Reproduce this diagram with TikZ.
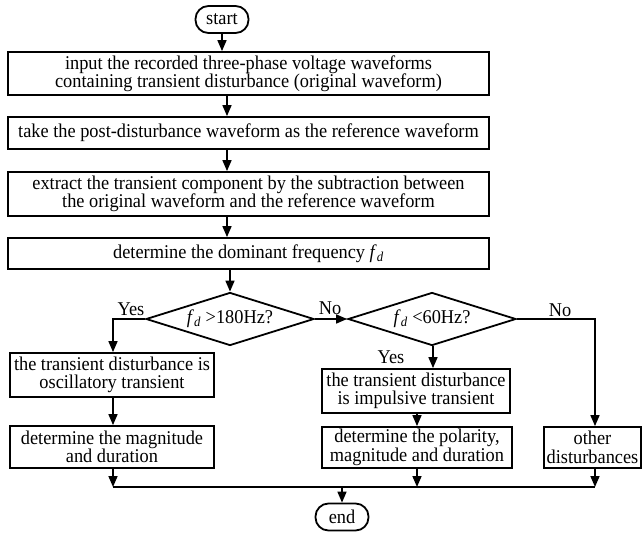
\documentclass[tikz,border=0pt]{standalone}
\usepackage{fontspec}
\setmainfont{Liberation Serif}[FakeStretch=0.94]
\usetikzlibrary{shapes.geometric,arrows.meta}
\newcommand\fdsym{\textit{f}\textsubscript{\textit{d}}}
\begin{document}
\begin{tikzpicture}[x=1pt,y=-1pt,
  every node/.style={font=\fontsize{19.5}{18.5}\selectfont},
  box/.style={draw, line width=1.8pt, rectangle, inner sep=0pt, align=center},
  term/.style={draw, line width=1.8pt, rectangle, rounded corners=13pt, inner sep=0pt, minimum width=53pt, minimum height=27pt},
  dec/.style={draw, line width=1.8pt, diamond, inner sep=0pt, minimum width=168pt, minimum height=53pt},
  arr/.style={line width=1.6pt, -{Triangle[length=11pt,width=9pt]}},
  conn/.style={line width=1.6pt},
  lbl/.style={inner sep=0pt}]
\useasboundingbox (0,0) rectangle (643,533);
% terminals
\node[term] (st) at (222,19.5) {start};
\node[term] (en) at (342,517) {end};
% main column
\node[box, minimum width=481pt, minimum height=43pt] (b1) at (248.5,73.5)
  {input the recorded three-phase voltage waveforms\\containing transient disturbance (original waveform)};
\node[box, minimum width=481pt, minimum height=32pt] (b2) at (248.5,133)
  {take the post-disturbance waveform as the reference waveform};
\node[box, minimum width=481pt, minimum height=44pt] (b3) at (248.5,194)
  {extract the transient component by the subtraction between\\the original waveform and the reference waveform};
\node[box, minimum width=481pt, minimum height=31pt] (b4) at (248.5,253.5)
  {determine the dominant frequency \fdsym};
% decisions
\node[dec] (d1) at (230,319) {\makebox[0pt]{\fdsym\ {>}180Hz?}};
\node[dec] (d2) at (432,319) {\makebox[0pt]{\fdsym\ {<}60Hz?}};
% branches
\node[box, minimum width=204pt, minimum height=44pt] (b5) at (112,375)
  {\makebox[0pt]{the transient disturbance is}\\oscillatory transient};
\node[box, minimum width=204pt, minimum height=42pt] (b7) at (112,447)
  {determine the magnitude\\and duration};
\node[box, minimum width=188pt, minimum height=44pt] (b6) at (416,391)
  {the transient disturbance\\is impulsive transient};
\node[box, minimum width=190pt, minimum height=41pt] (b8) at (417,447.5)
  {determine the polarity,\\magnitude and duration};
\node[box, minimum width=97pt, minimum height=41pt] (b9) at (592.5,447.5)
  {other\\disturbances};
% helper coordinates
\coordinate (mc) at (227,0);
\coordinate (yc) at (113,0);
\coordinate (nc) at (595,0);
\coordinate (ic) at (433,0);
\coordinate (ml) at (113,487);
\coordinate (mr) at (595,487);
% connectors
\draw[arr] (st.south) -- (st.south |- b1.north);
\draw[arr] (b1.south -| mc) -- (b2.north -| mc);
\draw[arr] (b2.south -| mc) -- (b3.north -| mc);
\draw[arr] (b3.south -| mc) -- (b4.north -| mc);
\draw[arr] (b4.south -| d1.north) -- (d1.north);
\draw[arr] (d1.west) -| (b5.north -| yc);
\draw[arr] (d1.east) -- (d2.west);
\draw[arr] (d2.east) -| (b9.north -| nc);
\draw[arr] (d2.south -| ic) -- (b6.north -| ic);
\draw[arr] (b5.south -| yc) -- (b7.north -| yc);
\draw[arr] (b6.south -| b8.north) -- (b8.north);
\draw[arr] (b7.south -| yc) -- (ml);
\draw[arr] (b8.south) -- (b8.south |- ml);
\draw[arr] (b9.south -| nc) -- (mr);
\draw[conn] (ml) -- (mr);
\draw[arr] (en.north |- ml) -- (en.north);
% labels
\node[lbl] (ly1) at (131,309) {Yes};
\node[lbl] (ln1) at (330,308) {No};
\node[lbl] (ln2) at (560,310) {No};
\node[lbl] (ly2) at (391,357) {Yes};
\end{tikzpicture}
\end{document}
